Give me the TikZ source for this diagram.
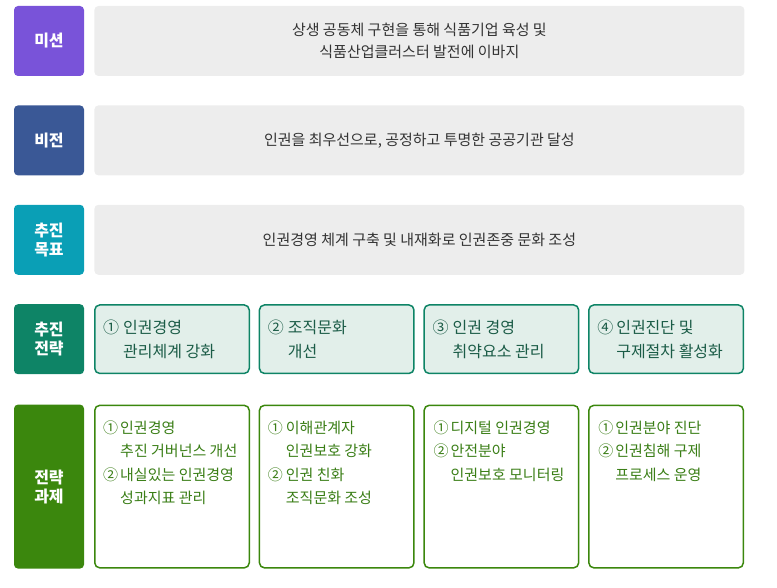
\documentclass[tikz,border=0pt]{standalone}
\usepackage{fontspec}
\setmainfont{Noto Sans CJK KR}
\usetikzlibrary{positioning}

\definecolor{missionpurple}{HTML}{7953D9}
\definecolor{visionblue}{HTML}{3A5896}
\definecolor{goalteal}{HTML}{0A9FB6}
\definecolor{stratgreen}{HTML}{0E8466}
\definecolor{taskgreen}{HTML}{3B870D}
\definecolor{boxgrey}{HTML}{EDEDED}
\definecolor{textgrey}{HTML}{333333}
\definecolor{stratfill}{HTML}{E2EFEA}
\definecolor{strattextcol}{HTML}{1B5C47}
\definecolor{tasktextcol}{HTML}{3A7E16}

% circled number with a fixed width, and the matching indent
\newcommand{\circnum}[2][18pt]{\makebox[#1][l]{#2}}
\newcommand{\hangin}[1][18pt]{\hspace*{#1}}

\begin{document}
\begin{tikzpicture}[x=1pt,y=-1pt,
    tag/.style={fill=#1, rounded corners=4pt, minimum width=70pt, minimum height=70pt,
        inner sep=0pt, text=white, align=center,
        font=\fontsize{16}{19}\selectfont\bfseries},
    greybox/.style={fill=boxgrey, rounded corners=4pt, minimum width=650pt,
        minimum height=70pt, text=textgrey, align=center,
        font=\fontsize{15}{22}\selectfont},
    stratbox/.style={draw=stratgreen, line width=1.5pt, fill=stratfill,
        rounded corners=5pt, minimum width=154.5pt, minimum height=68.5pt, inner sep=0pt},
    taskbox/.style={draw=taskgreen, line width=1.5pt, fill=white,
        rounded corners=5pt, minimum width=154.5pt, minimum height=162.5pt, inner sep=0pt},
    strattext/.style={text=strattextcol, align=left, inner sep=0pt,
        font=\fontsize{16}{24}\selectfont},
    tasktext/.style={text=tasktextcol, align=left, inner sep=0pt,
        font=\fontsize{15}{23.5}\selectfont}]
    \useasboundingbox (0,0) rectangle (777,588);

    % row labels
    \node[tag=missionpurple] (mission) at (49,41) {미션};
    \node[tag=visionblue, below=29pt of mission] (vision) {비전};
    \node[tag=goalteal, below=29pt of vision] (goal) {추진\\목표};
    \node[tag=stratgreen, below=29pt of goal] (strat) {추진\\전략};
    \node[tag=taskgreen, minimum height=164pt, below=30pt of strat] (task) {전략\\과제};

    % grey content boxes
    \node[greybox, right=10pt of mission] (missiontext)
        {상생 공동체 구현을 통해 식품기업 육성 및\\식품산업클러스터 발전에 이바지};
    \node[greybox, right=10pt of vision] (visiontext)
        {인권을 최우선으로, 공정하고 투명한 공공기관 달성};
    \node[greybox, right=10pt of goal] (goaltext)
        {인권경영 체계 구축 및 내재화로 인권존중 문화 조성};

    % strategies
    \node[stratbox, right=9.8pt of strat] (s1) {};
    \node[stratbox, right=8.7pt of s1] (s2) {};
    \node[stratbox, right=8.7pt of s2] (s3) {};
    \node[stratbox, right=8.7pt of s3] (s4) {};
    \node[strattext, right=9pt of s1.west] (s1t)
        {\circnum[20pt]{①}인권경영\\\hangin[20pt]관리체계 강화};
    \node[strattext, right=9pt of s2.west] (s2t)
        {\circnum[20pt]{②}조직문화\\\hangin[20pt]개선};
    \node[strattext, right=9pt of s3.west] (s3t)
        {\circnum[20pt]{③}인권 경영\\\hangin[20pt]취약요소 관리};
    \node[strattext, right=9pt of s4.west] (s4t)
        {\circnum[19pt]{④}인권진단 및\\\hangin[19pt]구제절차 활성화};

    % tasks
    \node[taskbox, right=9.8pt of task] (t1) {};
    \node[taskbox, right=8.7pt of t1] (t2) {};
    \node[taskbox, right=8.7pt of t2] (t3) {};
    \node[taskbox, right=8.7pt of t3] (t4) {};
    \node[tasktext, below right=16pt and 9pt of t1.north west] (t1t)
        {\circnum[17pt]{①}인권경영\\\hangin[17pt]추진 거버넌스 개선\\
         \circnum[17pt]{②}내실있는 인권경영\\\hangin[17pt]성과지표 관리};
    \node[tasktext, below right=16pt and 9pt of t2.north west] (t2t)
        {\circnum{①}이해관계자\\\hangin 인권보호 강화\\
         \circnum{②}인권 친화\\\hangin 조직문화 조성};
    \node[tasktext, below right=16pt and 10pt of t3.north west] (t3t)
        {\circnum[17pt]{①}디지털 인권경영\\
         \circnum[17pt]{②}안전분야\\\hangin[17pt]인권보호 모니터링};
    \node[tasktext, below right=16pt and 10pt of t4.north west] (t4t)
        {\circnum[17pt]{①}인권분야 진단\\
         \circnum[17pt]{②}인권침해 구제\\\hangin[17pt]프로세스 운영};
\end{tikzpicture}
\end{document}
